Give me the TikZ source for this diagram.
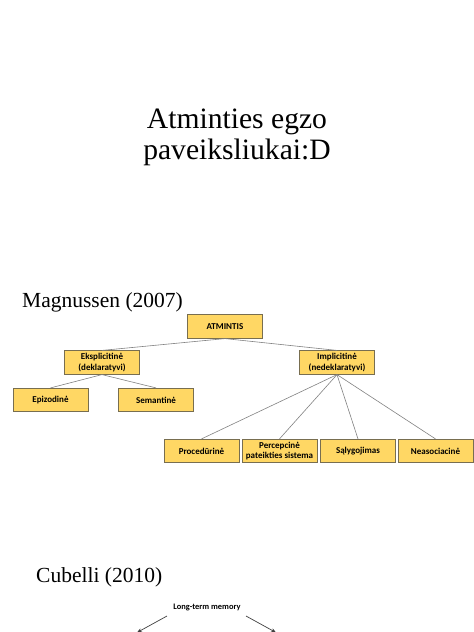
\documentclass[tikz,border=0pt]{standalone}
\usepackage{fontspec}
\setmainfont{Liberation Serif}
\newfontfamily\carl{Carlito}
\usetikzlibrary{arrows.meta}
\definecolor{boxfill}{RGB}{255,215,100}
\definecolor{boxline}{RGB}{120,110,80}
\definecolor{conn}{RGB}{130,130,130}
\tikzset{
  memobox/.style={draw=boxline, line width=0.7pt, fill=boxfill, minimum width=75pt, minimum height=23.5pt,
    inner sep=1pt, align=center, font=\carl\bfseries\fontsize{9}{10.8}\selectfont},
  tline/.style={draw=conn, line width=0.6pt},
  bigtitle/.style={anchor=base, inner sep=0pt, font=\fontsize{29.6}{32}\selectfont},
  subtitle/.style={anchor=base west, inner sep=0pt, font=\fontsize{21.5}{24}\selectfont},
  arr/.style={draw=black!75, line width=0.7pt, -{Stealth[length=5pt,width=4pt]}}
}
\begin{document}
\begin{tikzpicture}[x=1pt,y=-1pt]
\useasboundingbox[fill=white] (0,0) rectangle (474,632);
\node[bigtitle] (t1) at (237,128) {Atminties egzo};
\node[bigtitle] (t2) at (237,159) {paveiksliukai:D};
\node[subtitle] (mag) at (22,307) {Magnussen (2007)};
\node[subtitle] (cub) at (36,582) {Cubelli (2010)};

\node[memobox] (atm) at (225,326.5) {ATMINTIS};
\node[memobox] (eks) at (102,362.5) {Eksplicitinė\\(deklaratyvi)};
\node[memobox] (imp) at (337,362.5) {Implicitinė\\(nedeklaratyvi)};
\node[memobox] (epi) at (50.5,400) {Epizodinė};
\node[memobox] (sem) at (156,400) {Semantinė};
\node[memobox] (proc) at (201.5,451) {Procedūrinė};
\node[memobox] (perc) at (279.5,451) {Percepcinė\\pateikties sistema};
\node[memobox] (sal) at (358,451) {Sąlygojimas};
\node[memobox] (neas) at (435.5,451) {Neasociacinė};

\draw[tline] (atm.south) -- (eks.north);
\draw[tline] (atm.south) -- (imp.north);
\draw[tline] (eks.south) -- (epi.north);
\draw[tline] (eks.south) -- (sem.north);
\draw[tline] (imp.south) -- (proc.north);
\draw[tline] (imp.south) -- (perc.north);
\draw[tline] (imp.south) -- (sal.north);
\draw[tline] (imp.south) -- (neas.north);

\node[inner sep=1pt, font=\carl\bfseries\fontsize{8.4}{10}\selectfont] (ltm) at (207,607) {Long-term memory};
\coordinate (l0) at (167,616);
\coordinate (l1) at (137,632.5);
\coordinate (r0) at (246,616);
\coordinate (r1) at (276,632.5);
\draw[arr] (l0) -- (l1);
\draw[arr] (r0) -- (r1);
\end{tikzpicture}
\end{document}
